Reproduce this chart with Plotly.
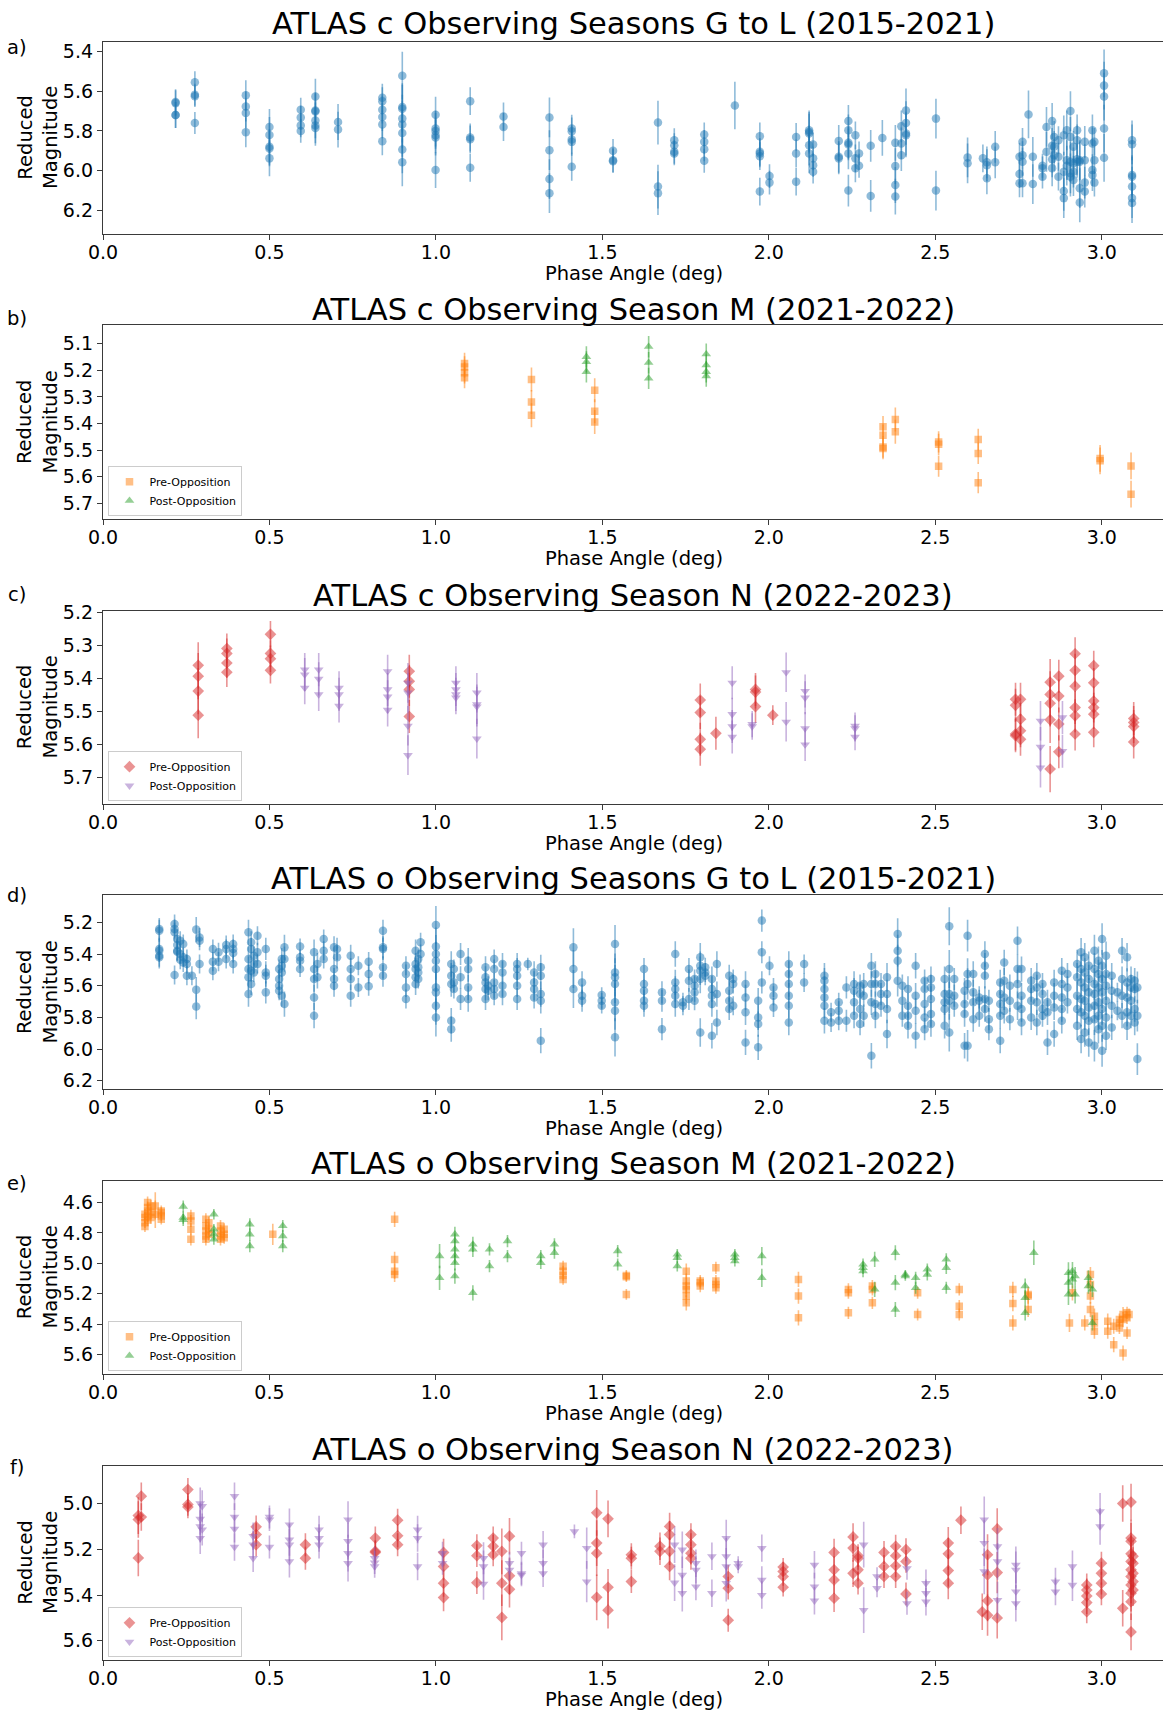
import plotly.graph_objects as go

# ---------------- data ----------------
# Panel a: ATLAS c, seasons G-L
a_phase = [0.218, 0.276, 0.429, 0.500, 0.594, 0.638, 0.706, 0.839, 0.899, 0.999,
           1.103, 1.203, 1.341, 1.408, 1.532, 1.667, 1.716, 1.806, 1.898, 1.973,
           2.002, 2.082, 2.121, 2.133, 2.210, 2.239, 2.260, 2.271, 2.306, 2.341,
           2.380, 2.398, 2.412, 2.502, 2.597, 2.643, 2.655, 2.680, 2.753, 2.762,
           2.780, 2.793, 2.822, 2.834, 2.851, 2.857, 2.870, 2.886, 2.895, 2.906,
           2.915, 2.926, 2.934, 2.949, 2.972, 2.978, 3.007, 3.091]
a_mag = [
    [5.655, 5.66, 5.72, 5.72], [5.555, 5.618, 5.625, 5.76], [5.62, 5.677, 5.71, 5.807],
    [5.78, 5.82, 5.88, 5.888, 5.938], [5.693, 5.733, 5.772, 5.80],
    [5.627, 5.697, 5.702, 5.747, 5.772, 5.785], [5.755, 5.793],
    [5.633, 5.65, 5.693, 5.73, 5.767, 5.852],
    [5.522, 5.68, 5.688, 5.738, 5.767, 5.81, 5.893, 5.958],
    [5.718, 5.788, 5.80, 5.822, 5.833, 5.997],
    [5.65, 5.833, 5.842, 5.985], [5.727, 5.78], [5.732, 5.897, 6.042, 6.113],
    [5.788, 5.802, 5.843, 5.855, 5.98], [5.90, 5.947, 5.952], [5.758, 6.08, 6.113],
    [5.847, 5.872, 5.905, 5.913], [5.818, 5.855, 5.892, 5.95], [5.672],
    [5.827, 5.905, 5.913, 5.927, 6.105],
    [6.027, 6.06], [5.83, 5.913, 6.055], [5.797, 5.805, 5.813, 5.872, 5.913],
    [5.868, 5.938, 5.972, 6.005], [5.85, 5.93, 5.938],
    [5.75, 5.797, 5.86, 5.868, 5.913, 6.10], [5.822, 5.938, 5.988], [5.913, 5.975],
    [5.875, 6.127], [5.835],
    [5.86, 5.977, 6.072, 6.13], [5.777, 5.863, 5.922], [5.697, 5.76, 5.813, 5.822],
    [5.738, 6.10], [5.933, 5.963], [5.938], [5.958, 5.972, 6.038], [5.88, 5.958],
    [5.93, 6.017, 6.063], [5.855, 5.922, 5.955, 6.063],
    [5.717], [5.93, 6.067], [5.975, 5.988, 6.03], [5.78, 5.905],
    [5.75, 5.875, 5.943, 5.988], [5.83, 5.88, 5.922], [5.847, 5.93, 6.03],
    [5.822, 6.005, 6.102, 6.138], [5.797, 5.947, 5.975], [5.70, 5.83, 5.955, 6.013, 6.03],
    [5.88, 5.963, 6.005, 6.047], [5.797, 5.847, 5.943, 5.955], [5.947, 5.955, 6.088, 6.16],
    [5.855, 5.947, 6.06, 6.105], [5.797, 5.863, 5.997, 6.022], [5.855, 5.947, 6.06],
    [5.51, 5.572, 5.627, 5.788, 5.935], [5.847, 5.867, 6.022, 6.03, 6.08, 6.138, 6.163]]
a_err = [0.065, 0.055, 0.075, 0.09, 0.06, 0.09, 0.09, 0.07, 0.12, 0.09,
         0.07, 0.07, 0.1, 0.07, 0.06, 0.11, 0.06, 0.06, 0.12, 0.07,
         0.06, 0.07, 0.1, 0.06, 0.08, 0.08, 0.07, 0.06, 0.08, 0.09,
         0.09, 0.08, 0.11, 0.1, 0.1, 0.07, 0.08, 0.08, 0.07, 0.07,
         0.12, 0.1, 0.06, 0.1, 0.09, 0.08, 0.07, 0.1, 0.1, 0.1,
         0.08, 0.08, 0.1, 0.08, 0.08, 0.07, 0.12, 0.1]

# Panel b: ATLAS c, season M
b_pre_phase = [1.086, 1.287, 1.477, 2.343, 2.380, 2.510, 2.629, 2.995, 3.088]
b_pre_mag = [[5.175, 5.188, 5.21, 5.228], [5.235, 5.319, 5.369], [5.275, 5.354, 5.394],
             [5.412, 5.444, 5.488, 5.494], [5.385, 5.431], [5.469, 5.478, 5.56],
             [5.46, 5.512, 5.622], [5.531, 5.54], [5.559, 5.665]]
b_pre_err = [0.04, 0.045, 0.045, 0.04, 0.045, 0.04, 0.04, 0.05, 0.05]
b_post_phase = [1.452, 1.639, 1.812]
b_post_mag = [[5.15, 5.169, 5.206], [5.112, 5.172, 5.231], [5.14, 5.181, 5.206, 5.222]]
b_post_err = [0.04, 0.04, 0.04]

# Panel c: ATLAS c, season N
c_pre_phase = [0.286, 0.372, 0.503, 0.920, 1.794, 1.841, 1.960, 2.012, 2.741, 2.756,
               2.845, 2.871, 2.920, 2.976, 3.096]
c_pre_mag = [[5.361, 5.394, 5.439, 5.512], [5.31, 5.325, 5.354, 5.382],
             [5.267, 5.325, 5.341, 5.376], [5.379, 5.409, 5.434, 5.516],
             [5.466, 5.504, 5.585, 5.615], [5.567], [5.434, 5.442, 5.486], [5.512],
             [5.464, 5.482, 5.569, 5.574], [5.464, 5.524, 5.559, 5.585],
             [5.412, 5.449, 5.476, 5.526, 5.675], [5.394, 5.454, 5.539, 5.623],
             [5.326, 5.376, 5.424, 5.489, 5.514, 5.569],
             [5.362, 5.414, 5.469, 5.489, 5.509, 5.564], [5.522, 5.534, 5.546, 5.593]]
c_pre_err = [0.07, 0.045, 0.04, 0.05, 0.05, 0.05, 0.05, 0.03, 0.05, 0.05,
             0.07, 0.05, 0.05, 0.045, 0.05]
c_post_phase = [0.606, 0.648, 0.709, 0.855, 0.916, 1.060, 1.123, 1.890, 1.950, 2.052,
                2.109, 2.259, 2.816, 2.882]
c_post_mag = [[5.374, 5.389, 5.429], [5.374, 5.402, 5.449], [5.429, 5.449, 5.484],
              [5.379, 5.434, 5.456, 5.496], [5.414, 5.444, 5.544, 5.633],
              [5.414, 5.434, 5.449, 5.459], [5.444, 5.479, 5.486, 5.583],
              [5.414, 5.509, 5.546, 5.578], [5.539, 5.546], [5.382, 5.532],
              [5.439, 5.459, 5.552, 5.601], [5.544, 5.552, 5.578], [5.529, 5.608, 5.671],
              [5.519, 5.621]]
c_post_err = [0.05, 0.05, 0.05, 0.05, 0.06, 0.05, 0.06, 0.05, 0.04, 0.06,
              0.05, 0.04, 0.06, 0.05]

# Panel d: ATLAS o, seasons G-L
d_phase = [0.169, 0.215, 0.223, 0.232, 0.241, 0.252, 0.267, 0.280, 0.290, 0.330,
           0.347, 0.370, 0.391, 0.437, 0.445, 0.453, 0.464, 0.489, 0.529, 0.537,
           0.545, 0.592, 0.634, 0.644, 0.663, 0.694, 0.703, 0.744, 0.767, 0.798,
           0.841, 0.910, 0.939, 0.947, 0.954, 1.000, 1.046, 1.054, 1.074, 1.097,
           1.149, 1.157, 1.175, 1.200, 1.244, 1.276, 1.295, 1.315, 1.413, 1.439,
           1.498, 1.538, 1.625, 1.679, 1.719, 1.742, 1.760, 1.777, 1.794, 1.809,
           1.829, 1.844, 1.881, 1.893, 1.930, 1.968, 1.979, 2.002, 2.014, 2.060,
           2.106, 2.167, 2.187, 2.210, 2.233, 2.256, 2.274, 2.285, 2.308, 2.320,
           2.337, 2.355, 2.387, 2.401, 2.418, 2.441, 2.468, 2.487, 2.528, 2.542,
           2.557, 2.588, 2.597, 2.614, 2.632, 2.649, 2.661, 2.695, 2.707, 2.724,
           2.747, 2.759, 2.788, 2.805, 2.822, 2.837, 2.857, 2.880, 2.897, 2.926,
           2.938, 2.949, 2.961, 2.978, 2.990, 3.001, 3.013, 3.030, 3.047, 3.061,
           3.076, 3.088, 3.099, 3.107]
d_mag = [
    [5.242, 5.253, 5.368, 5.379, 5.411, 5.421], [5.211, 5.242, 5.263, 5.533],
    [5.305, 5.343, 5.379, 5.385], [5.316, 5.40, 5.436], [5.337, 5.421, 5.453],
    [5.432, 5.463, 5.537], [5.537], [5.246, 5.625, 5.731], [5.295, 5.316, 5.463],
    [5.368, 5.448, 5.505],
    [5.389, 5.448], [5.343, 5.368, 5.432], [5.337, 5.368, 5.394, 5.463],
    [5.263, 5.432, 5.495, 5.547, 5.653], [5.326, 5.368, 5.505, 5.589],
    [5.411, 5.463, 5.516], [5.284, 5.389, 5.463], [5.368, 5.516, 5.537, 5.642],
    [5.495, 5.558, 5.60, 5.632], [5.432, 5.474, 5.516, 5.663],
    [5.358, 5.432, 5.716], [5.352, 5.421, 5.442, 5.495],
    [5.389, 5.495, 5.558, 5.674, 5.789], [5.463, 5.547], [5.305, 5.379, 5.432],
    [5.358, 5.495, 5.558, 5.60], [5.368, 5.421], [5.411, 5.495, 5.558, 5.663],
    [5.474, 5.611], [5.448, 5.526, 5.604],
    [5.253, 5.358, 5.368, 5.484, 5.537], [5.474, 5.526, 5.611, 5.684],
    [5.379, 5.463, 5.495, 5.547, 5.589], [5.432, 5.484, 5.516, 5.558], [5.326, 5.40],
    [5.217, 5.352, 5.40, 5.442, 5.495, 5.611, 5.642, 5.726, 5.80],
    [5.463, 5.537, 5.589, 5.821, 5.874], [5.495, 5.579, 5.621], [5.40, 5.547, 5.684],
    [5.442, 5.495, 5.611, 5.684],
    [5.484, 5.547, 5.579, 5.621, 5.684], [5.60, 5.632], [5.432, 5.495, 5.579, 5.621, 5.663],
    [5.463, 5.516, 5.60, 5.653], [5.463, 5.495, 5.537, 5.60, 5.684], [5.463],
    [5.516, 5.579, 5.621, 5.674], [5.484, 5.537, 5.653, 5.695, 5.947],
    [5.358, 5.495, 5.621], [5.579, 5.663, 5.695],
    [5.659, 5.695, 5.726], [5.337, 5.516, 5.547, 5.589, 5.705, 5.758, 5.926],
    [5.495, 5.589, 5.632, 5.695, 5.726], [5.642, 5.695, 5.874],
    [5.40, 5.579, 5.621, 5.663, 5.716], [5.705, 5.726], [5.495, 5.568, 5.684],
    [5.558, 5.60, 5.642, 5.695], [5.421, 5.474, 5.505, 5.558, 5.895], [5.484, 5.516, 5.537],
    [5.558, 5.621, 5.663, 5.716, 5.916], [5.463, 5.653, 5.832], [5.537, 5.632, 5.695, 5.747],
    [5.558, 5.589, 5.726], [5.589, 5.674, 5.768, 5.958], [5.695, 5.80, 5.842, 5.989],
    [5.189, 5.389, 5.579], [5.474], [5.611, 5.663, 5.737],
    [5.463, 5.526, 5.589, 5.663, 5.726, 5.832],
    [5.463, 5.579], [5.537, 5.568, 5.621, 5.674, 5.726, 5.821], [5.768, 5.832],
    [5.705, 5.758, 5.821], [5.611, 5.821], [5.589, 5.632, 5.705, 5.789],
    [5.60, 5.653, 5.747, 5.842], [5.589, 5.663, 5.789], [5.474, 5.589, 5.705, 6.042],
    [5.526, 5.589, 5.716, 5.789],
    [5.589, 5.653, 5.726], [5.547, 5.653, 5.747, 5.905], [5.274, 5.379, 5.442, 5.568],
    [5.60, 5.695, 5.789], [5.621, 5.726, 5.789, 5.853], [5.474, 5.663, 5.758, 5.916],
    [5.568, 5.621, 5.716, 5.80, 5.874], [5.558, 5.611, 5.684, 5.779, 5.842],
    [5.558, 5.653, 5.705, 5.747, 5.853], [5.225, 5.495, 5.653, 5.695, 5.895],
    [5.558, 5.663, 5.726], [5.632, 5.716, 5.779, 5.979], [5.284, 5.526, 5.589, 5.979],
    [5.526, 5.642, 5.705, 5.811], [5.674, 5.695, 5.789], [5.40, 5.474, 5.537, 5.684, 5.747],
    [5.695, 5.811, 5.874], [5.579, 5.653, 5.716, 5.789, 5.947], [5.453, 5.568, 5.674, 5.758],
    [5.60, 5.695, 5.811],
    [5.316, 5.495, 5.589, 5.726], [5.495, 5.663, 5.747, 5.832], [5.568, 5.621, 5.695, 5.80],
    [5.537, 5.611, 5.705, 5.832], [5.589, 5.653, 5.747, 5.789], [5.705, 5.768, 5.958],
    [5.579, 5.663, 5.737, 5.905], [5.505, 5.589, 5.674, 5.747, 5.821], [5.526, 5.611, 5.705],
    [5.463, 5.547, 5.663, 5.747, 5.853],
    [5.389, 5.495, 5.579, 5.684, 5.768, 5.937], [5.421, 5.516, 5.611, 5.695, 5.789, 5.895],
    [5.474, 5.558, 5.642, 5.737, 5.821, 5.958],
    [5.379, 5.495, 5.589, 5.653, 5.726, 5.811, 5.979],
    [5.442, 5.526, 5.611, 5.705, 5.789, 5.874],
    [5.305, 5.474, 5.558, 5.642, 5.747, 5.853, 6.011],
    [5.411, 5.526, 5.60, 5.695, 5.80, 5.916], [5.537, 5.632, 5.726, 5.863], [5.642, 5.758],
    [5.379, 5.558, 5.663, 5.789],
    [5.421, 5.579, 5.674, 5.768, 5.853], [5.558, 5.611, 5.695, 5.789],
    [5.568, 5.621, 5.747, 5.832], [5.611, 5.789, 6.063]]
d_err = [0.07, 0.06, 0.06, 0.06, 0.06, 0.06, 0.06, 0.08, 0.06, 0.06,
         0.06, 0.06, 0.06, 0.08, 0.07, 0.06, 0.06, 0.07, 0.06, 0.07,
         0.08, 0.05, 0.08, 0.07, 0.06, 0.07, 0.07, 0.07, 0.06, 0.06,
         0.07, 0.06, 0.07, 0.06, 0.06, 0.12, 0.08, 0.06, 0.07, 0.08,
         0.07, 0.06, 0.06, 0.07, 0.07, 0.04, 0.07, 0.08, 0.12, 0.07,
         0.05, 0.12, 0.07, 0.07, 0.08, 0.06, 0.07, 0.06, 0.09, 0.06,
         0.08, 0.08, 0.07, 0.06, 0.08, 0.08, 0.07, 0.06, 0.06, 0.08,
         0.06, 0.08, 0.06, 0.06, 0.07, 0.08, 0.07, 0.07, 0.08, 0.08,
         0.07, 0.09, 0.10, 0.07, 0.08, 0.08, 0.07, 0.08, 0.08, 0.12,
         0.07, 0.08, 0.10, 0.08, 0.07, 0.08, 0.07, 0.08, 0.08, 0.07,
         0.09, 0.08, 0.08, 0.08, 0.07, 0.08, 0.08, 0.08, 0.07, 0.09,
         0.09, 0.09, 0.09, 0.10, 0.09, 0.10, 0.09, 0.08, 0.06, 0.08,
         0.09, 0.08, 0.08, 0.10]

# Panel e: ATLAS o, season M
e_pre_phase = [0.126, 0.134, 0.144, 0.157, 0.175, 0.264, 0.309, 0.318, 0.353, 0.364,
               0.510, 0.876, 1.382, 1.572, 1.752, 1.794, 1.841, 2.089, 2.239, 2.311,
               2.447, 2.572, 2.733, 2.779, 2.903, 2.912, 2.949, 2.966, 2.978, 3.018,
               3.036, 3.053, 3.064, 3.076, 3.082]
e_pre_mag = [
    [4.677, 4.699, 4.732, 4.758], [4.60, 4.633, 4.655, 4.688, 4.714], [4.622, 4.666, 4.699],
    [4.622, 4.677], [4.655, 4.666, 4.688, 4.71], [4.688, 4.721, 4.776, 4.842],
    [4.71, 4.754, 4.787, 4.82, 4.842], [4.732, 4.776, 4.809], [4.754, 4.787, 4.82, 4.842],
    [4.776, 4.809, 4.831],
    [4.809], [4.71, 4.974, 5.051, 5.073], [5.018, 5.051, 5.079, 5.106], [5.079, 5.088, 5.204],
    [5.051, 5.116, 5.149, 5.171, 5.215, 5.259], [5.116, 5.127, 5.149],
    [5.029, 5.116, 5.138, 5.16], [5.105, 5.215, 5.358], [5.171, 5.193, 5.325],
    [5.149, 5.171, 5.259],
    [5.193, 5.336], [5.171, 5.281, 5.336], [5.171, 5.264, 5.391], [5.204, 5.215, 5.303],
    [5.391], [5.193], [5.391], [5.073, 5.138, 5.215, 5.303], [5.347, 5.391, 5.446],
    [5.38, 5.446],
    [5.413, 5.534], [5.369, 5.391, 5.424], [5.336, 5.369, 5.589], [5.325, 5.358, 5.457],
    [5.336]]
e_pre_err = [0.035, 0.04, 0.04, 0.09, 0.035, 0.04, 0.04, 0.04, 0.04, 0.04,
             0.07, 0.05, 0.035, 0.035, 0.05, 0.04, 0.04, 0.05, 0.04, 0.04,
             0.04, 0.04, 0.05, 0.05, 0.06, 0.05, 0.05, 0.05, 0.05, 0.05,
             0.05, 0.04, 0.05, 0.04, 0.04]
e_post_phase = [0.241, 0.333, 0.441, 0.540, 1.011, 1.057, 1.111, 1.161, 1.215, 1.315,
                1.356, 1.546, 1.725, 1.898, 1.979, 2.283, 2.318, 2.380, 2.410, 2.441,
                2.476, 2.533, 2.770, 2.796, 2.900, 2.912, 2.920, 2.960, 2.972]
e_post_mag = [
    [4.626, 4.699, 4.714], [4.677, 4.776, 4.809, 4.842], [4.743, 4.809, 4.886],
    [4.754, 4.82, 4.886], [4.952, 5.095], [4.809, 4.853, 4.908, 4.952, 4.996, 5.084],
    [4.875, 4.908, 5.193], [4.908, 5.018], [4.853, 4.952], [4.952, 4.996],
    [4.875, 4.93], [4.919, 5.007], [4.941, 4.963, 5.018], [4.941, 4.963, 4.985],
    [4.952, 5.095], [5.007, 5.029, 5.051], [4.974, 5.171], [4.93, 5.127, 5.303],
    [5.073, 5.084], [5.095, 5.16],
    [5.04, 5.073], [4.974, 5.029, 5.16], [5.149, 5.226, 5.325], [4.93],
    [5.062, 5.127, 5.204], [5.051, 5.105], [5.084, 5.204], [5.095, 5.149], [5.171, 5.391]]
e_post_err = [0.04, 0.035, 0.04, 0.04, 0.08, 0.05, 0.05, 0.04, 0.04, 0.04,
              0.04, 0.04, 0.035, 0.035, 0.06, 0.04, 0.05, 0.05, 0.03, 0.04,
              0.04, 0.04, 0.05, 0.08, 0.07, 0.06, 0.06, 0.05, 0.05]

# Panel f: ATLAS o, season N
f_pre_phase = [0.106, 0.115, 0.255, 0.460, 0.608, 0.818, 0.885, 1.023, 1.123, 1.172,
               1.198, 1.221, 1.483, 1.517, 1.587, 1.673, 1.702, 1.766, 1.878, 2.043,
               2.196, 2.253, 2.268, 2.346, 2.381, 2.412, 2.539, 2.577, 2.641, 2.657,
               2.686, 2.955, 2.999, 3.063, 3.088, 3.094]
f_pre_mag = [
    [5.053, 5.07, 5.238], [4.968, 5.059], [4.939, 5.004, 5.015], [5.102, 5.136, 5.18],
    [5.18, 5.239], [5.151, 5.209, 5.214], [5.073, 5.141, 5.18], [5.214, 5.275, 5.348, 5.411],
    [5.184, 5.228, 5.346], [5.151, 5.187, 5.224],
    [5.209, 5.348, 5.498], [5.143, 5.316, 5.375], [5.041, 5.173, 5.217, 5.41],
    [5.067, 5.366, 5.466], [5.224, 5.239, 5.341], [5.187, 5.209], [5.10, 5.136, 5.209, 5.275],
    [5.136, 5.18, 5.217, 5.239], [5.319, 5.37, 5.51], [5.278, 5.297, 5.319, 5.366],
    [5.214, 5.29, 5.334, 5.414], [5.146, 5.195, 5.305], [5.228, 5.239, 5.29, 5.348],
    [5.214, 5.275, 5.319], [5.187, 5.228, 5.272, 5.319], [5.202, 5.253, 5.395],
    [5.173, 5.22, 5.293, 5.348], [5.073], [5.473], [5.224, 5.312, 5.425, 5.488],
    [5.111, 5.302, 5.50], [5.356, 5.378, 5.404, 5.433, 5.473], [5.261, 5.305, 5.348, 5.395],
    [5.0, 5.458],
    [4.994, 5.151, 5.165, 5.22, 5.253, 5.29, 5.319, 5.356, 5.392, 5.429, 5.561],
    [5.231, 5.261, 5.305, 5.341, 5.378]]
f_pre_err = [0.08, 0.06, 0.05, 0.05, 0.05, 0.05, 0.05, 0.06, 0.05, 0.05,
             0.10, 0.08, 0.10, 0.08, 0.05, 0.06, 0.06, 0.05, 0.05, 0.04,
             0.06, 0.06, 0.05, 0.05, 0.05, 0.05, 0.07, 0.06, 0.08, 0.09,
             0.09, 0.05, 0.05, 0.08, 0.08, 0.07]
f_post_phase = [0.292, 0.298, 0.395, 0.451, 0.500, 0.560, 0.649, 0.736, 0.816, 0.945,
                1.020, 1.143, 1.221, 1.257, 1.322, 1.416, 1.453, 1.717, 1.740, 1.781,
                1.829, 1.872, 1.908, 1.979, 2.137, 2.285, 2.325, 2.415, 2.472, 2.647,
                2.687, 2.742, 2.861, 2.912, 2.995]
f_post_mag = [
    [5.0, 5.067, 5.10, 5.151], [5.012, 5.114], [4.968, 5.059, 5.111, 5.19],
    [5.143, 5.18, 5.239], [5.059, 5.07, 5.19], [5.092, 5.158, 5.18, 5.253],
    [5.114, 5.151, 5.18], [5.07, 5.165, 5.217, 5.261], [5.239, 5.258, 5.275],
    [5.114, 5.151, 5.275],
    [5.217, 5.261], [5.239, 5.275, 5.351], [5.261, 5.29], [5.217, 5.305, 5.312],
    [5.18, 5.261, 5.305], [5.122], [5.195, 5.341], [5.18, 5.346], [5.202, 5.312, 5.392],
    [5.261, 5.29, 5.363],
    [5.231, 5.392], [5.151, 5.231, 5.275, 5.348], [5.261, 5.275], [5.195, 5.334, 5.4],
    [5.268, 5.363, 5.425], [5.18, 5.466], [5.319, 5.37], [5.283, 5.436],
    [5.348, 5.392, 5.429], [5.07, 5.173, 5.297],
    [5.187, 5.253, 5.422], [5.268, 5.29, 5.385, 5.436], [5.341, 5.385], [5.275, 5.356],
    [5.034, 5.10]]
f_post_err = [0.07, 0.07, 0.06, 0.06, 0.05, 0.07, 0.06, 0.08, 0.05, 0.06,
              0.05, 0.07, 0.05, 0.05, 0.06, 0.03, 0.09, 0.08, 0.08, 0.06,
              0.06, 0.08, 0.03, 0.06, 0.06, 0.10, 0.04, 0.05, 0.06, 0.10,
              0.08, 0.08, 0.06, 0.07, 0.08]

titles = ["ATLAS c Observing Seasons G to L (2015-2021)",
          "ATLAS c Observing Season M (2021-2022)",
          "ATLAS c Observing Season N (2022-2023)",
          "ATLAS o Observing Seasons G to L (2015-2021)",
          "ATLAS o Observing Season M (2021-2022)",
          "ATLAS o Observing Season N (2022-2023)"]
panel_labels = ["a)", "b)", "c)", "d)", "e)", "f)"]

# ---------------- helpers ----------------
def flatten(phase, mags, errs):
    xs, ys, es = [], [], []
    for p, ms, e in zip(phase, mags, errs):
        for m in ms:
            xs.append(p); ys.append(m); es.append(e)
    return xs, ys, es

def rgba(rgb, a):
    return "rgba(%d,%d,%d,%.2f)" % (rgb[0], rgb[1], rgb[2], a)

BLUE = (31, 119, 180); ORANGE = (255, 127, 14); GREEN = (44, 160, 44)
RED = (214, 39, 40); PURPLE = (148, 103, 189)
FONT = "DejaVu Sans"
W, H = 1163, 1712
LEFT = 102.6
PW = W - LEFT

# layout geometry in pixels (top, bottom of each axes)
boxes = [(41.5, 233.7), (325.4, 518.7), (610.5, 803.7),
         (895.4, 1088.7), (1180.5, 1373.7), (1465.5, 1659.8)]
yranges = [[6.317, 5.35], [5.757, 5.032], [5.78, 5.195],
           [6.25, 5.03], [5.725, 4.455], [5.683, 4.834]]
ydticks = [0.2, 0.1, 0.1, 0.2, 0.2, 0.2]
title_y = [24, 309, 595, 878, 1163, 1449]
label_y = [47, 318, 594, 895, 1183, 1467]

series = [
    [(a_phase, a_mag, a_err, BLUE, "circle", 8.5, None)],
    [(b_pre_phase, b_pre_mag, b_pre_err, ORANGE, "square", 7.5, "Pre-Opposition"),
     (b_post_phase, b_post_mag, b_post_err, GREEN, "triangle-up", 8.5, "Post-Opposition")],
    [(c_pre_phase, c_pre_mag, c_pre_err, RED, "diamond", 9, "Pre-Opposition"),
     (c_post_phase, c_post_mag, c_post_err, PURPLE, "triangle-down", 8.5, "Post-Opposition")],
    [(d_phase, d_mag, d_err, BLUE, "circle", 8.5, None)],
    [(e_pre_phase, e_pre_mag, e_pre_err, ORANGE, "square", 7.5, "Pre-Opposition"),
     (e_post_phase, e_post_mag, e_post_err, GREEN, "triangle-up", 8.5, "Post-Opposition")],
    [(f_pre_phase, f_pre_mag, f_pre_err, RED, "diamond", 9, "Pre-Opposition"),
     (f_post_phase, f_post_mag, f_post_err, PURPLE, "triangle-down", 8.5, "Post-Opposition")],
]

fig = go.Figure()
annotations = []
layout = {}
legend_ids = {1: "legend", 2: "legend2", 4: "legend3", 5: "legend4"}

for i in range(6):
    n = i + 1
    xa = "x" if n == 1 else "x%d" % n
    ya = "y" if n == 1 else "y%d" % n
    top, bot = boxes[i]
    for (ph, mg, er, col, sym, sz, name) in series[i]:
        xs, ys, es = flatten(ph, mg, er)
        tr = dict(x=xs, y=ys, mode="markers", xaxis=xa, yaxis=ya,
                  marker=dict(color=rgba(col, 0.5), symbol=sym, size=sz, line=dict(width=0)),
                  error_y=dict(type="data", array=es, color=rgba(col, 0.5),
                               thickness=1.6, width=0),
                  showlegend=name is not None, name=name or "")
        if name is not None:
            tr["legend"] = legend_ids[i]
        fig.add_trace(go.Scatter(**tr))

    axis_common = dict(showline=True, linecolor="#3a3a3a", linewidth=1.3,
                       ticks="outside", ticklen=5, tickwidth=1.3, tickcolor="#3a3a3a",
                       showgrid=False, zeroline=False, automargin=False,
                       tickfont=dict(family=FONT, size=19, color="black"))
    layout["xaxis" if n == 1 else "xaxis%d" % n] = dict(
        domain=[0, 1], range=[0, 3.184], anchor=ya, mirror=True,
        tick0=0, dtick=0.5, tickformat=".1f", ticklabelstandoff=-4, **axis_common)
    layout["yaxis" if n == 1 else "yaxis%d" % n] = dict(
        domain=[1 - bot / H, 1 - top / H], range=yranges[i], anchor=xa, mirror=False,
        tick0=0, dtick=ydticks[i], tickformat=".1f", **axis_common)

    # title
    annotations.append(dict(text=titles[i], xref="paper", yref="paper", x=0.5,
                            y=1 - title_y[i] / H, xanchor="center", yanchor="middle",
                            showarrow=False, font=dict(family=FONT, size=30.5, color="black")))
    # x title
    annotations.append(dict(text="Phase Angle (deg)", xref="paper", yref="paper",
                            x=(634 - LEFT) / PW, y=1 - (bot + 39.5) / H,
                            xanchor="center", yanchor="middle", showarrow=False,
                            font=dict(family=FONT, size=19.5, color="black")))
    # y title
    annotations.append(dict(text="Reduced<br>Magnitude", xref="paper", yref="paper",
                            x=(37 - LEFT) / PW, y=1 - (top + bot) / 2 / H,
                            xanchor="center", yanchor="middle", textangle=-90,
                            showarrow=False,
                            font=dict(family=FONT, size=19.5, color="black")))
    # panel label
    annotations.append(dict(text=panel_labels[i], xref="paper", yref="paper",
                            x=(17 - LEFT) / PW, y=1 - label_y[i] / H,
                            xanchor="center", yanchor="middle", showarrow=False,
                            font=dict(family=FONT, size=19.5, color="black")))

for i, lid in legend_ids.items():
    top, bot = boxes[i]
    layout[lid] = dict(x=5.5 / PW, y=1 - (bot - 2.5) / H, xanchor="left", yanchor="bottom",
                       bgcolor="rgba(255,255,255,0.8)", bordercolor="#cccccc", borderwidth=1,
                       font=dict(family=FONT, size=11, color="black"),
                       tracegroupgap=0, itemwidth=30)

fig.update_layout(width=W, height=H,
                  margin=dict(l=LEFT, r=0, t=0, b=0, pad=0, autoexpand=False),
                  paper_bgcolor="white", plot_bgcolor="white",
                  annotations=annotations, font=dict(family=FONT), **layout)

fig.write_html("out.html")
